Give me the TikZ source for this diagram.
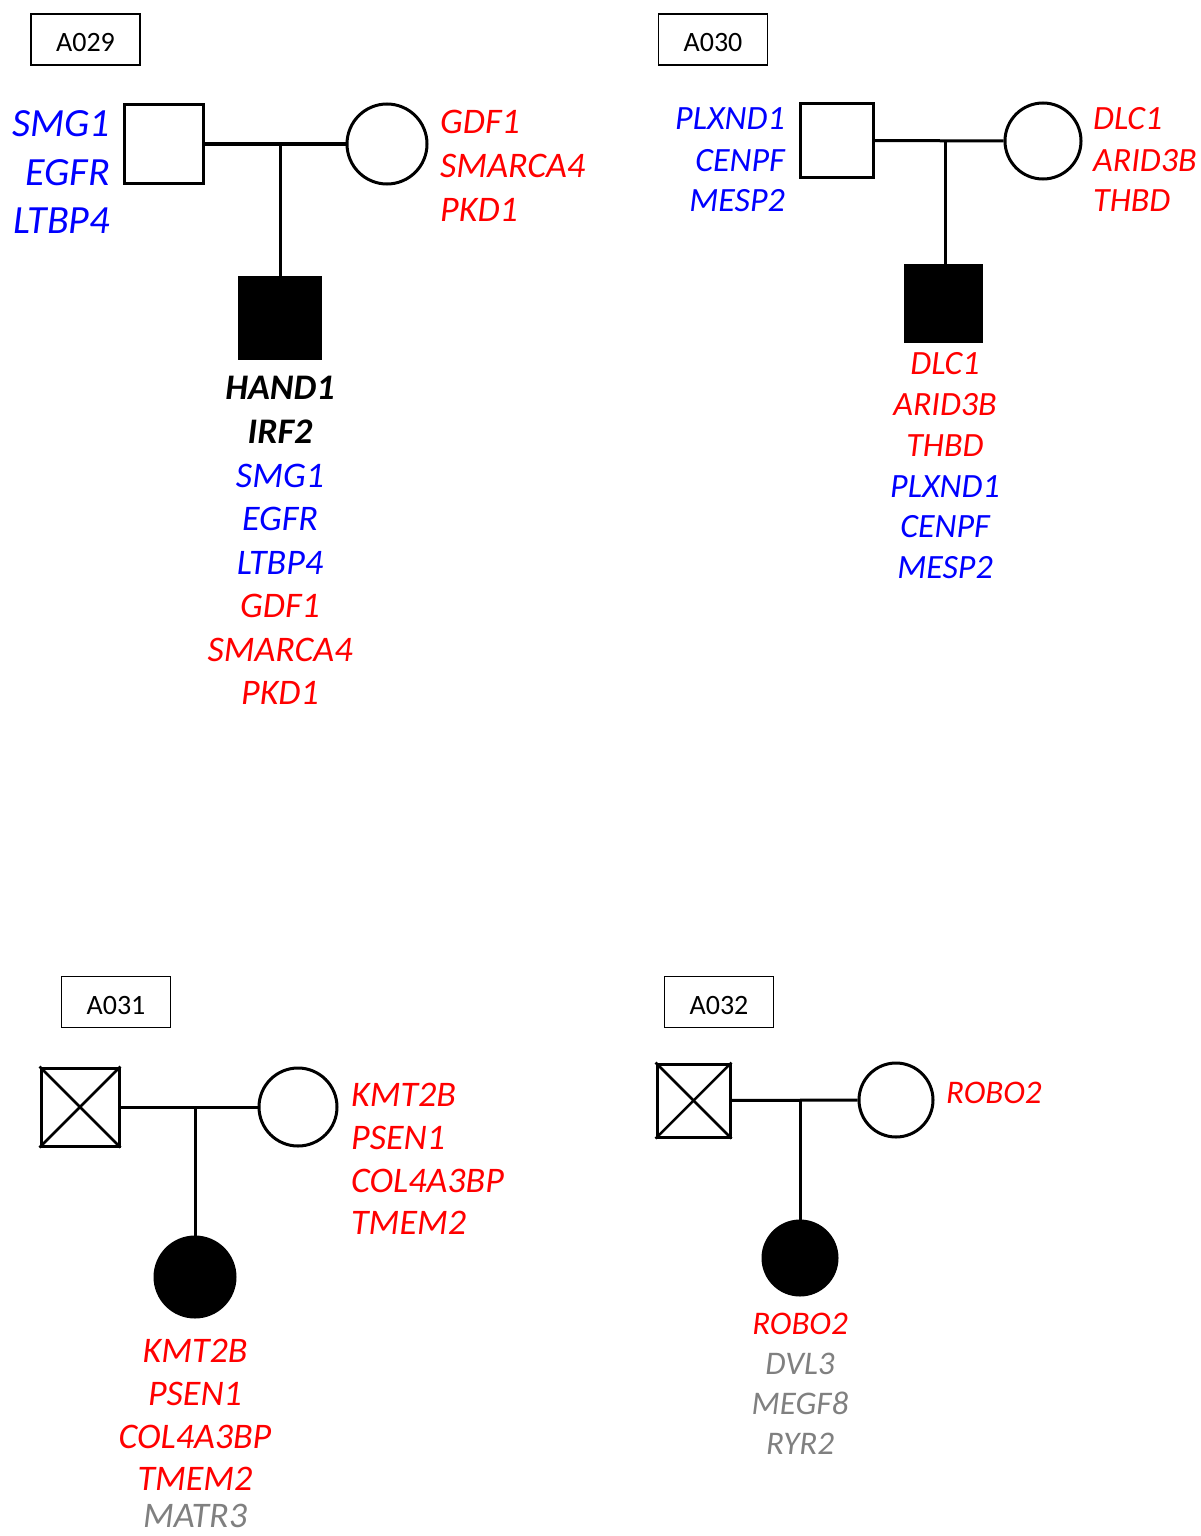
\documentclass[tikz,border=0pt]{standalone}
\usepackage{fontspec}
\setmainfont{Carlito}
\newcommand\gsz[1]{\fontsize{#1}{#1}\selectfont}
\definecolor{gblue}{RGB}{0,0,255}
\definecolor{gred}{RGB}{255,0,0}
\definecolor{ggray}{RGB}{128,128,128}
\begin{document}
\begin{tikzpicture}[x=1pt,y=-1pt,
  lbl/.style={draw,line width=1.5pt,minimum width=109pt,minimum height=51pt,inner sep=0pt,text height=25pt,text depth=0pt,font=\gsz{28}},
  male/.style={draw,line width=3pt,rectangle,minimum size=#1,inner sep=0pt,fill=white},
  female/.style={draw,line width=3pt,circle,minimum size=#1,inner sep=0pt,fill=white},
  aff/.style={fill=black},
  ln/.style={line width=3pt},
  xl/.style={line width=2.5pt},
  gA/.style={font=\gsz{36}\itshape,inner sep=0pt},
  gL/.style={font=\gsz{40}\itshape,inner sep=0pt},
  gB/.style={font=\gsz{34}\itshape,inner sep=0pt},
  gD/.style={font=\gsz{33}\itshape,inner sep=0pt},
  bl/.style={text=gblue},
  rd/.style={text=gred},
  gy/.style={text=ggray},
  bk/.style={text=black,font=\gsz{36}\itshape\bfseries}]
\useasboundingbox[fill=white] (0,0) rectangle (1201,1536);

% ---------------- A029 ----------------
\node[lbl] (t1) at (85.5,39.5) {A029};
\node[male=79pt] (f1) at (164,144) {};
\node[female=80pt] (m1) at (387,144) {};
\node[male=81pt,aff] (c1) at (280,318) {};
\coordinate (j1) at (280,144);
\draw[ln] (f1) -- (m1);
\draw[ln] (j1) -- (c1.north);
\node[gL,bl,anchor=base east] (a1) at (110,137) {SMG1};
\node[gL,bl,anchor=base east] (a2) at (110,185) {EGFR};
\node[gL,bl,anchor=base east] (a3) at (110,233) {LTBP4};
\node[gA,rd,anchor=base west] (a4) at (440,133) {GDF1};
\node[gA,rd,anchor=base west] (a5) at (440,177) {SMARCA4};
\node[gA,rd,anchor=base west] (a6) at (440,221) {PKD1};
\node[gA,bk,anchor=base] (a7) at (280,399) {HAND1};
\node[gA,bk,anchor=base] (a8) at (280,443) {IRF2};
\node[gA,bl,anchor=base] (a9) at (280,487) {SMG1};
\node[gA,bl,anchor=base] (a10) at (280,530) {EGFR};
\node[gA,bl,anchor=base] (a11) at (280,574) {LTBP4};
\node[gA,rd,anchor=base] (a12) at (280,617) {GDF1};
\node[gA,rd,anchor=base] (a13) at (280,661) {SMARCA4};
\node[gA,rd,anchor=base] (a14) at (280,704) {PKD1};

% ---------------- A030 ----------------
\node[lbl] (t2) at (713,39.5) {A030};
\node[male=73pt] (f2) at (836.5,140.5) {};
\node[female=76pt] (m2) at (1043,141) {};
\node[male=76pt,aff] (c2) at (943,303.5) {};
\coordinate (j2) at (945,141);
\draw[ln] (f2) -- (m2);
\draw[ln] (j2) -- (j2 |- c2.north);
\node[gB,bl,anchor=base east] (b1) at (785,130) {PLXND1};
\node[gB,bl,anchor=base east] (b2) at (785,171) {CENPF};
\node[gB,bl,anchor=base east] (b3) at (785,211) {MESP2};
\node[gB,rd,anchor=base west] (b4) at (1093,130) {DLC1};
\node[gB,rd,anchor=base west] (b5) at (1093,171) {ARID3B};
\node[gB,rd,anchor=base west] (b6) at (1093,211) {THBD};
\node[gB,rd,anchor=base] (b7) at (945,374) {DLC1};
\node[gB,rd,anchor=base] (b8) at (945,415) {ARID3B};
\node[gB,rd,anchor=base] (b9) at (945,456) {THBD};
\node[gB,bl,anchor=base] (b10) at (945,497) {PLXND1};
\node[gB,bl,anchor=base] (b11) at (945,537) {CENPF};
\node[gB,bl,anchor=base] (b12) at (945,578) {MESP2};

% ---------------- A031 ----------------
\node[lbl] (t3) at (116,1002) {A031};
\node[male=78pt] (f3) at (80,1107) {};
\draw[xl] (f3.north west) -- (f3.south east);
\draw[xl] (f3.north east) -- (f3.south west);
\node[female=78pt] (m3) at (298,1107) {};
\node[female=80pt,aff] (c3) at (195,1277) {};
\coordinate (j3) at (195,1107);
\draw[ln] (f3) -- (m3);
\draw[ln] (j3) -- (c3.north);
\node[gA,rd,anchor=base west] (d1) at (351,1106) {KMT2B};
\node[gA,rd,anchor=base west] (d2) at (351,1149) {PSEN1};
\node[gA,rd,anchor=base west] (d3) at (351,1192) {COL4A3BP};
\node[gA,rd,anchor=base west] (d4) at (351,1234) {TMEM2};
\node[gA,rd,anchor=base] (d5) at (195,1362) {KMT2B};
\node[gA,rd,anchor=base] (d6) at (195,1405) {PSEN1};
\node[gA,rd,anchor=base] (d7) at (195,1448) {COL4A3BP};
\node[gA,rd,anchor=base] (d8) at (195,1490) {TMEM2};
\node[gA,gy,anchor=base] (d9) at (195,1527) {MATR3};

% ---------------- A032 ----------------
\node[lbl] (t4) at (719,1002) {A032};
\node[male=73pt] (f4) at (693.5,1100.5) {};
\draw[xl] (f4.north west) -- (f4.south east);
\draw[xl] (f4.north east) -- (f4.south west);
\node[female=74pt] (m4) at (896,1100) {};
\node[female=74pt,aff] (c4) at (800,1258) {};
\coordinate (j4) at (800,1100);
\draw[ln] (f4) -- (m4);
\draw[ln] (j4) -- (c4.north);
\node[gD,rd,anchor=base west] (e1) at (946,1103) {ROBO2};
\node[gD,rd,anchor=base] (e2) at (800,1334) {ROBO2};
\node[gD,gy,anchor=base] (e3) at (800,1374) {DVL3};
\node[gD,gy,anchor=base] (e4) at (800,1414) {MEGF8};
\node[gD,gy,anchor=base] (e5) at (800,1454) {RYR2};
\end{tikzpicture}
\end{document}
